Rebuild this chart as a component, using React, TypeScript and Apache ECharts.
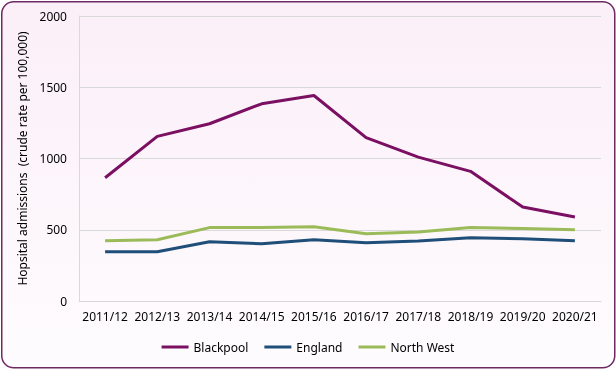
import React, { useEffect, useRef } from "react";
import * as echarts from "echarts";

const categories = ["2011/12", "2012/13", "2013/14", "2014/15", "2015/16", "2016/17", "2017/18", "2018/19", "2019/20", "2020/21"];
const blackpool = [865, 1155, 1244, 1384, 1442, 1146, 1010, 910, 659, 589];
const england = [346, 346, 416, 402, 430, 409, 421, 444, 437, 423];
const northWest = [423, 430, 515, 515, 521, 472, 484, 515, 508, 500];
const yTicks = { min: 0, max: 2000, interval: 500 };

export default function App() {
  const ref = useRef<HTMLDivElement>(null);
  useEffect(() => {
    document.body.style.margin = "0";
    const chart = echarts.init(ref.current!, null, { renderer: "svg" });
    const font = "'Noto Sans', sans-serif";
    chart.setOption({
      animation: false,
      graphic: [
        {
          type: "rect",
          left: 1,
          top: 1,
          z: -10,
          silent: true,
          shape: { width: 613, height: 366, r: 12 },
          style: {
            fill: new echarts.graphic.LinearGradient(0, 0, 0, 1, [
              { offset: 0, color: "#fbeff8" },
              { offset: 1, color: "#fefcfe" },
            ]),
            stroke: "#6e2a63",
            lineWidth: 1.5,
          },
        },
      ],
      grid: { left: 79, right: 15, top: 16, bottom: 68 },
      legend: {
        bottom: 11,
        left: "center",
        icon: "rect",
        itemWidth: 27,
        itemHeight: 3,
        itemGap: 16,
        textStyle: { fontFamily: font, fontSize: 12, color: "#000" },
        data: ["Blackpool", "England", "North West"],
      },
      xAxis: {
        type: "category",
        data: categories,
        axisLine: { lineStyle: { color: "#d9d9d9" } },
        axisTick: { lineStyle: { color: "#d9d9d9" }, length: 5 },
        axisLabel: { fontFamily: font, fontSize: 12, color: "#000", margin: 9, interval: 0 },
      },
      yAxis: {
        type: "value",
        min: yTicks.min,
        max: yTicks.max,
        interval: yTicks.interval,
        name: "Hopsital admissions  (crude rate per 100,000)",
        nameLocation: "middle",
        nameGap: 44,
        nameTextStyle: { fontFamily: font, fontSize: 12, color: "#000" },
        axisLine: { show: true, lineStyle: { color: "#d9d9d9" } },
        axisTick: { show: false },
        splitLine: { lineStyle: { color: "#d9d9d9" } },
        axisLabel: { fontFamily: font, fontSize: 12, color: "#000", margin: 12, formatter: (v: number) => String(v) },
      },
      series: [
        { name: "Blackpool", type: "line", data: blackpool, symbol: "none", lineStyle: { color: "#7b0f62", width: 3 }, itemStyle: { color: "#7b0f62" } },
        { name: "England", type: "line", data: england, symbol: "none", lineStyle: { color: "#1f4e79", width: 3 }, itemStyle: { color: "#1f4e79" } },
        { name: "North West", type: "line", data: northWest, symbol: "none", lineStyle: { color: "#9bbb59", width: 3 }, itemStyle: { color: "#9bbb59" } },
      ],
    });
    return () => chart.dispose();
  }, []);
  return <div ref={ref} style={{ width: 616, height: 369, position: "fixed", left: 0, top: 0 }} />;
}
